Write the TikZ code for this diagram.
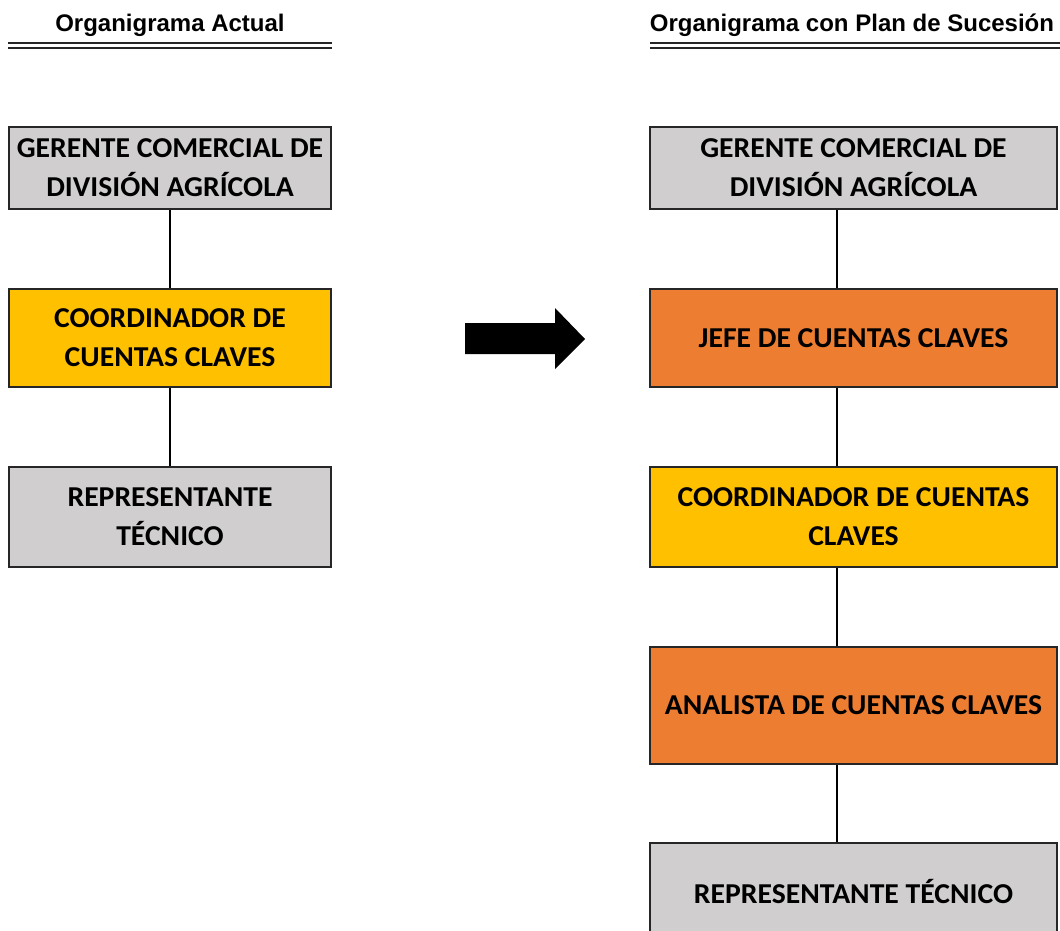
\documentclass[tikz,border=0pt]{standalone}
\usepackage{fontspec}
\newfontfamily\boxfont[FakeStretch=1.03]{Carlito}
\newfontfamily\headfont{Liberation Sans}
\definecolor{boxgray}{HTML}{D0CECE}
\definecolor{boxyellow}{HTML}{FFC000}
\definecolor{boxorange}{HTML}{ED7D31}
\definecolor{edgegray}{HTML}{262626}
\begin{document}
\begin{tikzpicture}[x=1pt,y=-1pt,
  orgbox/.style={draw=edgegray, line width=1.5pt, inner sep=0pt, align=center,
    font=\boxfont\bfseries\fontsize{28.8}{39}\selectfont, text=black},
  leftbox/.style={orgbox, minimum width=322pt},
  rightbox/.style={orgbox, minimum width=407pt},
  link/.style={draw=black, line width=1.5pt},
  header/.style={font=\headfont\bfseries\fontsize{24}{28}\selectfont, text=black, inner sep=0pt, anchor=base},
  rule/.style={draw=black!85, line width=2pt}]
\clip (0,0) rectangle (1060,931);
\useasboundingbox (0,0) rectangle (1060,931);
% headers
\node[header] (hl) at (170,32) {Organigrama Actual};
\node[header] (hr) at (852,32) {Organigrama con Plan de Sucesión};
\draw[rule] (8,43) -- (332,43);
\draw[rule] (8,48) -- (332,48);
\draw[rule] (650,43) -- (1060,43);
\draw[rule] (650,48) -- (1060,48);
% left column
\node[leftbox, fill=boxgray, minimum height=82pt] (l1) at (170,168) {GERENTE COMERCIAL DE\\DIVISIÓN AGRÍCOLA};
\node[leftbox, fill=boxyellow, minimum height=98pt] (l2) at (170,338) {COORDINADOR DE\\CUENTAS CLAVES};
\node[leftbox, fill=boxgray, minimum height=100pt] (l3) at (170,517) {REPRESENTANTE\\TÉCNICO};
\draw[link] (l1) -- (l2);
\draw[link] (l2) -- (l3);
% right column
\coordinate (rx) at (837,0);
\node[rightbox, fill=boxgray, minimum height=82pt] (r1) at (853.5,168) {GERENTE COMERCIAL DE\\DIVISIÓN AGRÍCOLA};
\node[rightbox, fill=boxorange, minimum height=98pt] (r2) at (853.5,338) {JEFE DE CUENTAS CLAVES};
\node[rightbox, fill=boxyellow, minimum height=100pt] (r3) at (853.5,517) {COORDINADOR DE CUENTAS\\CLAVES};
\node[rightbox, fill=boxorange, minimum height=117pt] (r4) at (853.5,705.5) {ANALISTA DE CUENTAS CLAVES};
\node[rightbox, fill=boxgray, minimum height=97pt] (r5) at (853.5,891.5) {REPRESENTANTE TÉCNICO};
\draw[link] (r1.south -| rx) -- (r2.north -| rx);
\draw[link] (r2.south -| rx) -- (r3.north -| rx);
\draw[link] (r3.south -| rx) -- (r4.north -| rx);
\draw[link] (r4.south -| rx) -- (r5.north -| rx);
% block arrow
\fill[black] (465,323) -- (555,323) -- (555,308) -- (585,339) -- (555,369) -- (555,354) -- (465,354) -- cycle;
\end{tikzpicture}
\end{document}
